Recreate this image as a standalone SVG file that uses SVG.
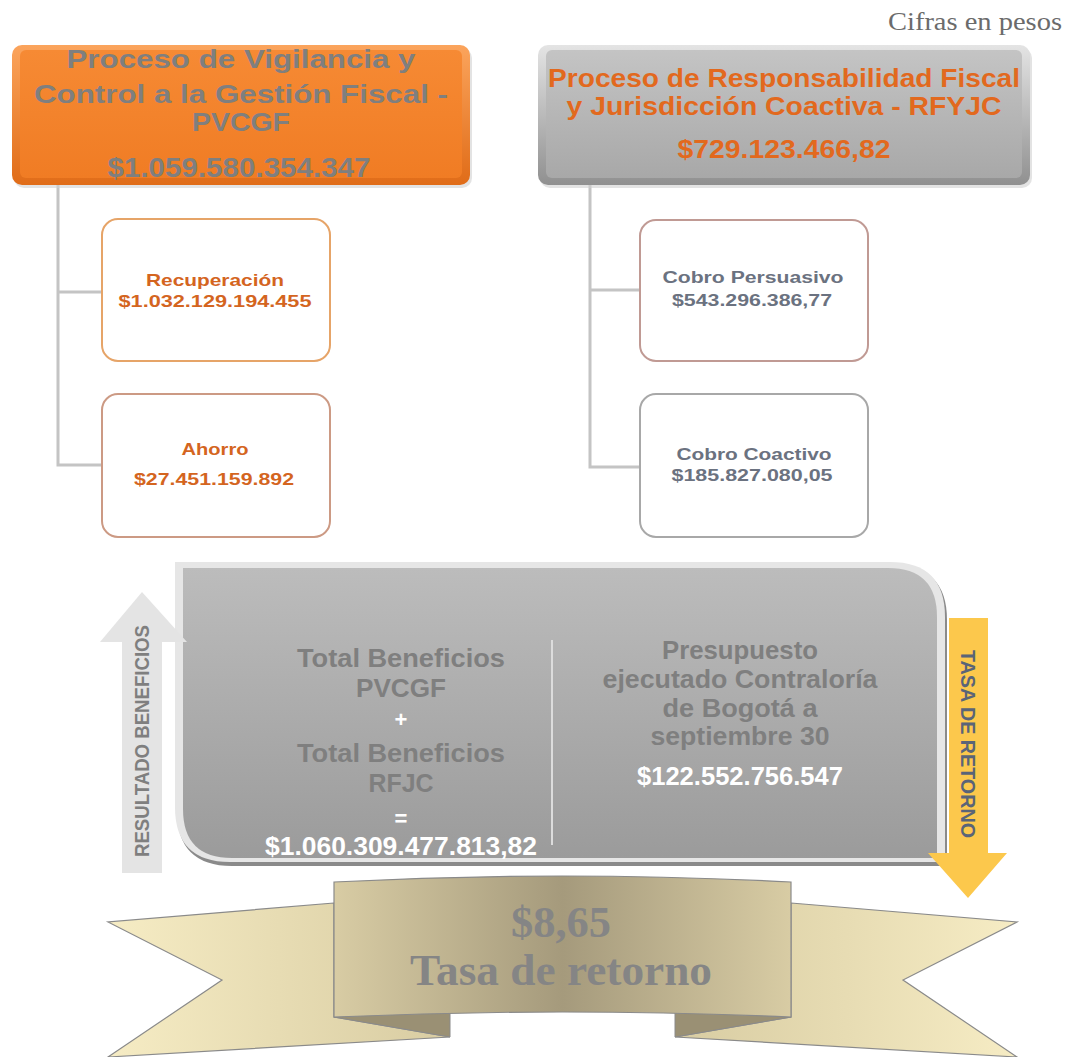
<svg xmlns="http://www.w3.org/2000/svg" width="1068" height="1057" viewBox="0 0 1068 1057">
<defs>
<style>
.sans{font-family:"Liberation Sans",Arial,sans-serif;font-weight:bold;text-anchor:middle}
.serif{font-family:"Liberation Serif","Times New Roman",serif;text-anchor:middle}
.conn{stroke:#c4c4c4;stroke-width:3;fill:none}
.gt{fill:#7f7f7f}
.ot{fill:#e2691e}
.ct{fill:#d4651f}
.bt{fill:#6b7280}
.wt{fill:#ffffff}
</style>
<linearGradient id="orOut" x1="0" y1="0" x2="0" y2="1">
<stop offset="0" stop-color="#fba45c"/><stop offset="1" stop-color="#e06c18"/>
</linearGradient>
<linearGradient id="orIn" x1="0" y1="0" x2="0" y2="1">
<stop offset="0" stop-color="#f68a34"/><stop offset="1" stop-color="#f07c24"/>
</linearGradient>
<linearGradient id="grOut" x1="0" y1="0" x2="0" y2="1">
<stop offset="0" stop-color="#e4e4e4"/><stop offset="1" stop-color="#909090"/>
</linearGradient>
<linearGradient id="grIn" x1="0" y1="0" x2="0" y2="1">
<stop offset="0" stop-color="#c4c4c4"/><stop offset="1" stop-color="#a8a8a8"/>
</linearGradient>
<linearGradient id="bigIn" x1="0" y1="0" x2="0" y2="1">
<stop offset="0" stop-color="#bcbcbc"/><stop offset="1" stop-color="#9b9b9b"/>
</linearGradient>
<linearGradient id="tailL" x1="0" y1="0" x2="1" y2="0">
<stop offset="0" stop-color="#f6ecc4"/><stop offset="1" stop-color="#d8cca2"/>
</linearGradient>
<linearGradient id="tailR" x1="1" y1="0" x2="0" y2="0">
<stop offset="0" stop-color="#f6ecc4"/><stop offset="1" stop-color="#d8cca2"/>
</linearGradient>
<linearGradient id="panel" x1="0" y1="0" x2="1" y2="0">
<stop offset="0" stop-color="#d8cca4"/><stop offset="0.5" stop-color="#a59a7c"/><stop offset="1" stop-color="#d8cca4"/>
</linearGradient>
</defs>
<rect width="1068" height="1057" fill="#ffffff"/>

<text class="serif" x="975" y="30" font-size="25" fill="#6b6b6b" textLength="174" lengthAdjust="spacingAndGlyphs">Cifras en pesos</text>

<g id="connectors">
<path class="conn" d="M58,185 V465 H102 M58,292 H102"/>
<path class="conn" d="M590,185 V467 H640 M590,290 H640"/>
</g>

<g id="node-pvcgf">
<rect x="14" y="48" width="458" height="140" rx="10" fill="#d0d0d0" opacity="0.6"/>
<rect x="12" y="45" width="458" height="140" rx="10" fill="url(#orOut)"/>
<rect x="20" y="50" width="442" height="128" rx="6" fill="url(#orIn)"/>
<text class="sans gt" x="241" y="68" font-size="25" textLength="349" lengthAdjust="spacingAndGlyphs">Proceso de Vigilancia y</text>
<text class="sans gt" x="241" y="103" font-size="25" textLength="414" lengthAdjust="spacingAndGlyphs">Control a la Gestión Fiscal -</text>
<text class="sans gt" x="241" y="131" font-size="25" textLength="98" lengthAdjust="spacingAndGlyphs">PVCGF</text>
<text class="sans gt" x="239" y="177" font-size="27" textLength="263" lengthAdjust="spacingAndGlyphs">$1.059.580.354.347</text>
</g>

<g id="node-rfyjc">
<rect x="540" y="48" width="492" height="140" rx="10" fill="#d0d0d0" opacity="0.6"/>
<rect x="538" y="45" width="492" height="140" rx="10" fill="url(#grOut)"/>
<rect x="546" y="50" width="476" height="128" rx="6" fill="url(#grIn)"/>
<text class="sans ot" x="784" y="87" font-size="25" textLength="472" lengthAdjust="spacingAndGlyphs">Proceso de Responsabilidad Fiscal</text>
<text class="sans ot" x="784" y="115" font-size="25" textLength="435" lengthAdjust="spacingAndGlyphs">y Jurisdicción Coactiva - RFYJC</text>
<text class="sans ot" x="784" y="158" font-size="25" textLength="213" lengthAdjust="spacingAndGlyphs">$729.123.466,82</text>
</g>

<g id="node-recuperacion">
<rect x="102" y="219" width="228" height="142" rx="16" fill="#ffffff" stroke="#e6a468" stroke-width="2"/>
<text class="sans ct" x="215" y="286" font-size="17" textLength="138" lengthAdjust="spacingAndGlyphs">Recuperación</text>
<text class="sans ct" x="215" y="307" font-size="17" textLength="193" lengthAdjust="spacingAndGlyphs">$1.032.129.194.455</text>
</g>

<g id="node-ahorro">
<rect x="102" y="394" width="228" height="143" rx="16" fill="#ffffff" stroke="#cc9a84" stroke-width="2"/>
<text class="sans ct" x="215" y="455" font-size="17" textLength="67" lengthAdjust="spacingAndGlyphs">Ahorro</text>
<text class="sans ct" x="214" y="485" font-size="17" textLength="160" lengthAdjust="spacingAndGlyphs">$27.451.159.892</text>
</g>

<g id="node-persuasivo">
<rect x="640" y="220" width="228" height="141" rx="16" fill="#ffffff" stroke="#c09a94" stroke-width="2"/>
<text class="sans bt" x="753" y="283" font-size="16" textLength="181" lengthAdjust="spacingAndGlyphs">Cobro Persuasivo</text>
<text class="sans bt" x="752" y="306" font-size="16" textLength="160" lengthAdjust="spacingAndGlyphs">$543.296.386,77</text>
</g>

<g id="node-coactivo">
<rect x="640" y="394" width="228" height="143" rx="16" fill="#ffffff" stroke="#a8a8a8" stroke-width="2"/>
<text class="sans bt" x="754" y="460" font-size="16" textLength="155" lengthAdjust="spacingAndGlyphs">Cobro Coactivo</text>
<text class="sans bt" x="752" y="481" font-size="16" textLength="161" lengthAdjust="spacingAndGlyphs">$185.827.080,05</text>
</g>

<g id="node-total">
<path d="M177,565 H892 Q947,565 947,620 V866 H232 Q177,866 177,811 Z" fill="#8a8a8a"/>
<path d="M175,562 H890 Q945,562 945,617 V862 H230 Q175,862 175,807 Z" fill="#e6e6e6"/>
<path d="M183,568 H888 Q937,568 937,617 V858 H232 Q183,858 183,809 Z" fill="url(#bigIn)"/>
<line x1="552" y1="640" x2="552" y2="845" stroke="#dcdcdc" stroke-width="2"/>
<text class="sans gt" x="401" y="667" font-size="26" textLength="208" lengthAdjust="spacingAndGlyphs">Total Beneficios</text>
<text class="sans gt" x="401" y="697" font-size="26" textLength="90" lengthAdjust="spacingAndGlyphs">PVCGF</text>
<text class="sans wt" x="401" y="727" font-size="22">+</text>
<text class="sans gt" x="401" y="762" font-size="26" textLength="208" lengthAdjust="spacingAndGlyphs">Total Beneficios</text>
<text class="sans gt" x="401" y="792" font-size="26" textLength="65" lengthAdjust="spacingAndGlyphs">RFJC</text>
<text class="sans wt" x="401" y="826" font-size="22">=</text>
<text class="sans wt" x="401" y="855" font-size="26" textLength="272" lengthAdjust="spacingAndGlyphs">$1.060.309.477.813,82</text>
<text class="sans gt" x="740" y="659" font-size="26" textLength="156" lengthAdjust="spacingAndGlyphs">Presupuesto</text>
<text class="sans gt" x="740" y="688" font-size="26" textLength="275" lengthAdjust="spacingAndGlyphs">ejecutado Contraloría</text>
<text class="sans gt" x="740" y="717" font-size="26" textLength="155" lengthAdjust="spacingAndGlyphs">de Bogotá a</text>
<text class="sans gt" x="740" y="745" font-size="26" textLength="179" lengthAdjust="spacingAndGlyphs">septiembre 30</text>
<text class="sans wt" x="740" y="785" font-size="25" textLength="206" lengthAdjust="spacingAndGlyphs">$122.552.756.547</text>
</g>

<g id="node-resultado">
<polygon points="142,592 187,642 162,642 162,873 122,873 122,642 100,642" fill="#e4e4e4"/>
<text class="sans gt" transform="translate(142,741) rotate(-90)" x="0" y="7" font-size="20" textLength="232" lengthAdjust="spacingAndGlyphs">RESULTADO BENEFICIOS</text>
</g>

<g id="node-tasa-arrow">
<polygon points="949,618 988,618 988,853 1007,853 968,898 928,853 949,853" fill="#fcc84c"/>
<text class="sans" fill="#5a6478" transform="translate(968,744) rotate(90)" x="0" y="7" font-size="20" textLength="188" lengthAdjust="spacingAndGlyphs">TASA DE RETORNO</text>
</g>

<g id="node-ribbon">
<polygon points="334,903 108,922 222,980 108,1057 450,1037 334,1017" fill="url(#tailL)" stroke="#8a8a8a" stroke-width="1.2"/>
<polygon points="791,903 1017,922 903,980 1017,1057 675,1037 791,1017" fill="url(#tailR)" stroke="#8a8a8a" stroke-width="1.2"/>
<polygon points="450,1010 334,1017 450,1037" fill="#9a9074" stroke="#8a8a8a" stroke-width="1"/>
<polygon points="675,1010 791,1017 675,1037" fill="#9a9074" stroke="#8a8a8a" stroke-width="1"/>
<path d="M334,882 Q562,870 791,882 L791,1017 Q562,1007 334,1017 Z" fill="url(#panel)" stroke="#8a8a8a" stroke-width="1.2"/>
<text class="serif" x="561" y="937" font-size="44" font-weight="bold" fill="#858585" textLength="100" lengthAdjust="spacingAndGlyphs">$8,65</text>
<text class="serif" x="561" y="985" font-size="44" font-weight="bold" fill="#858585" textLength="302" lengthAdjust="spacingAndGlyphs">Tasa de retorno</text>
</g>
</svg>
